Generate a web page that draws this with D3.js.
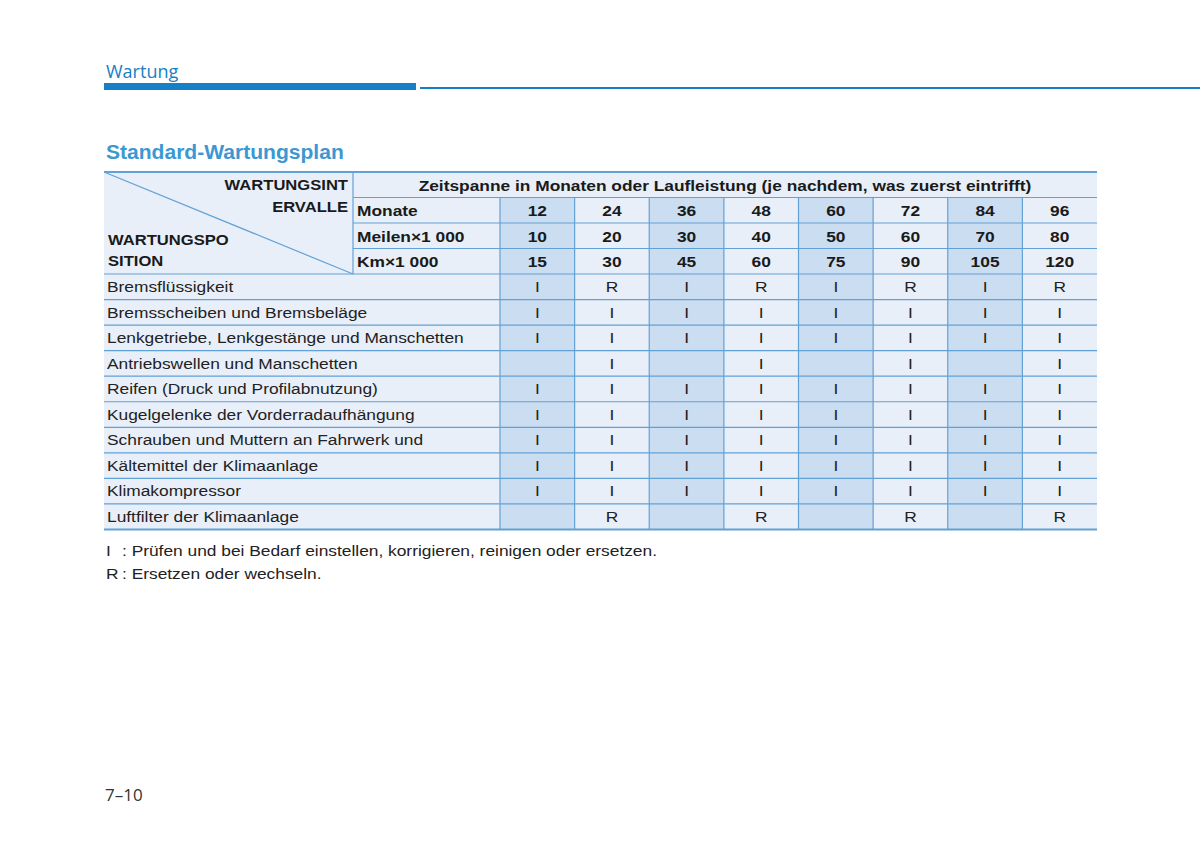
<!DOCTYPE html>
<html>
<head>
<meta charset="utf-8">
<script src="https://cdn.jsdelivr.net/npm/d3@7"></script>
<style>
  body { margin: 0; background: #fff; }
  svg { display: block; }
</style>
</head>
<body>
<div id="chart"></div>
<script>
// Table contents
var months = [12, 24, 36, 48, 60, 72, 84, 96];
var miles = [10, 20, 30, 40, 50, 60, 70, 80];
var kms = [15, 30, 45, 60, 75, 90, 105, 120];
var rowLabels = ['Monate', 'Meilen\u00d71 000', 'Km\u00d71 000'];
var items = [
  'Bremsflüssigkeit',
  'Bremsscheiben und Bremsbeläge',
  'Lenkgetriebe, Lenkgestänge und Manschetten',
  'Antriebswellen und Manschetten',
  'Reifen (Druck und Profilabnutzung)',
  'Kugelgelenke der Vorderradaufhängung',
  'Schrauben und Muttern an Fahrwerk und',
  'Kältemittel der Klimaanlage',
  'Klimakompressor',
  'Luftfilter der Klimaanlage'
];
var actions = [
  ['I', 'R', 'I', 'R', 'I', 'R', 'I', 'R'],
  ['I', 'I', 'I', 'I', 'I', 'I', 'I', 'I'],
  ['I', 'I', 'I', 'I', 'I', 'I', 'I', 'I'],
  ['', 'I', '', 'I', '', 'I', '', 'I'],
  ['I', 'I', 'I', 'I', 'I', 'I', 'I', 'I'],
  ['I', 'I', 'I', 'I', 'I', 'I', 'I', 'I'],
  ['I', 'I', 'I', 'I', 'I', 'I', 'I', 'I'],
  ['I', 'I', 'I', 'I', 'I', 'I', 'I', 'I'],
  ['I', 'I', 'I', 'I', 'I', 'I', 'I', 'I'],
  ['', 'R', '', 'R', '', 'R', '', 'R']
];
var notes = [
  ['I', ': Prüfen und bei Bedarf einstellen, korrigieren, reinigen oder ersetzen.'],
  ['R', ': Ersetzen oder wechseln.']
];

var width = 1200, height = 861;
var font = '"Liberation Sans", Arial, sans-serif';
var lineCol = '#62a1d6',
  light = '#e8eff9',
  shade = '#cbddf1',
  blue = '#1580c5';
var stretch = 1.12;

var svg = d3.select('#chart').append('svg')
  .attr('width', width)
  .attr('height', height);

// place a text node at (x, y), widened like the printed typeface
function put(sel, px, py, k) {
  return sel.attr('transform', 'translate(' + px + ',' + py + ') scale(' + (k || stretch) + ',1)');
}

// Page header
svg.append('text')
  .attr('x', 106).attr('y', 78)
  .style('font-family', '"Open Sans", sans-serif')
  .style('font-size', '18px')
  .style('fill', blue)
  .text('Wartung');
svg.append('rect')
  .attr('x', 104).attr('y', 83).attr('width', 312).attr('height', 7)
  .style('fill', blue);
svg.append('rect')
  .attr('x', 420).attr('y', 87).attr('width', 780).attr('height', 2)
  .style('fill', blue);

put(svg.append('text'), 106, 159, 1.08)
  .style('font-family', font)
  .style('font-size', '19.5px')
  .style('font-weight', 'bold')
  .style('fill', '#3c98d2')
  .text('Standard-Wartungsplan');

// Scales
var tableLeft = 104, tableRight = 1097, labelRight = 353, subRight = 500;
var tableTop = 172, headBottom = 274, tableBottom = 529.5;
var x = d3.scaleBand().domain(d3.range(months.length)).range([subRight, tableRight]);
var yHead = d3.scaleBand().domain(d3.range(4)).range([tableTop, headBottom]);
var y = d3.scaleBand().domain(d3.range(items.length)).range([headBottom, tableBottom]);

var g = svg.append('g');

// Cell backgrounds
g.append('rect')
  .attr('x', tableLeft).attr('y', tableTop)
  .attr('width', tableRight - tableLeft).attr('height', tableBottom - tableTop)
  .style('fill', light);

g.selectAll('.colShade')
  .data(d3.range(months.length).filter(function (i) { return i % 2 === 0; }))
  .enter().append('rect')
  .attr('class', 'colShade')
  .attr('x', function (i) { return x(i); })
  .attr('y', yHead(1))
  .attr('width', x.bandwidth())
  .attr('height', tableBottom - yHead(1))
  .style('fill', shade);

// Horizontal rules
g.selectAll('.hHead').data([yHead(1), yHead(2), yHead(3)]).enter().append('line')
  .attr('x1', labelRight).attr('x2', tableRight)
  .attr('y1', function (d) { return d; }).attr('y2', function (d) { return d; })
  .style('stroke', lineCol).style('stroke-width', 1.2);

g.selectAll('.hRow').data(d3.range(items.length)).enter().append('line')
  .attr('x1', tableLeft).attr('x2', tableRight)
  .attr('y1', function (i) { return y(i); }).attr('y2', function (i) { return y(i); })
  .style('stroke', lineCol).style('stroke-width', 1.2);

// top and bottom border
g.selectAll('.border').data([tableTop, tableBottom]).enter().append('line')
  .attr('x1', tableLeft).attr('x2', tableRight)
  .attr('y1', function (d) { return d; }).attr('y2', function (d) { return d; })
  .style('stroke', lineCol).style('stroke-width', 2);

// Vertical rules
g.append('line')
  .attr('x1', labelRight).attr('x2', labelRight).attr('y1', tableTop).attr('y2', headBottom)
  .style('stroke', lineCol).style('stroke-width', 1.2);
g.selectAll('.vCol').data(d3.range(months.length)).enter().append('line')
  .attr('x1', function (i) { return x(i); }).attr('x2', function (i) { return x(i); })
  .attr('y1', yHead(1)).attr('y2', tableBottom)
  .style('stroke', lineCol).style('stroke-width', 1.2);

// Diagonal in corner cell
g.append('line')
  .attr('x1', tableLeft).attr('y1', tableTop).attr('x2', labelRight).attr('y2', headBottom)
  .style('stroke', lineCol).style('stroke-width', 1.2);

// Header texts
function bold(sel) {
  return sel.style('font-family', font).style('font-weight', 'bold')
    .style('font-size', '15.5px').style('fill', '#1a1a1a');
}
function plain(sel) {
  return sel.style('font-family', font).style('font-size', '15.5px').style('fill', '#222');
}
bold(put(g.append('text'), 348, 190, 1.07).attr('text-anchor', 'end')).text('WARTUNGSINT');
bold(put(g.append('text'), 348, 212, 1.07).attr('text-anchor', 'end')).text('ERVALLE');
bold(put(g.append('text'), 108, 245, 1.07)).text('WARTUNGSPO');
bold(put(g.append('text'), 108, 266, 1.07)).text('SITION');
bold(put(g.append('text'), (labelRight + tableRight) / 2, yHead(0) + 18.5)
  .attr('text-anchor', 'middle'))
  .text('Zeitspanne in Monaten oder Laufleistung (je nachdem, was zuerst eintrifft)');

rowLabels.forEach(function (d, i) {
  bold(put(g.append('text'), 357, yHead(i + 1) + 18.5)).text(d);
});

[months, miles, kms].forEach(function (arr, r) {
  arr.forEach(function (d, i) {
    bold(put(g.append('text'), x(i) + x.bandwidth() / 2, yHead(r + 1) + 18.5)
      .attr('text-anchor', 'middle')).text(d);
  });
});

// Body rows
items.forEach(function (d, i) {
  plain(put(g.append('text'), 107, y(i) + 18)).text(d);
});

actions.forEach(function (row, r) {
  row.forEach(function (d, i) {
    if (!d) return;
    plain(put(g.append('text'), x(i) + x.bandwidth() / 2, y(r) + 18)
      .attr('text-anchor', 'middle')).text(d);
  });
});

// Legend notes
notes.forEach(function (n, i) {
  plain(put(svg.append('text'), 106, 556 + i * 23)).text(n[0]);
  plain(put(svg.append('text'), 122, 556 + i * 23)).text(n[1]);
});

// Page number
svg.append('text')
  .attr('x', 105).attr('y', 801)
  .style('font-family', '"Open Sans", sans-serif')
  .style('font-size', '17px')
  .style('fill', '#333')
  .text('7\u201310');
</script>
</body>
</html>
